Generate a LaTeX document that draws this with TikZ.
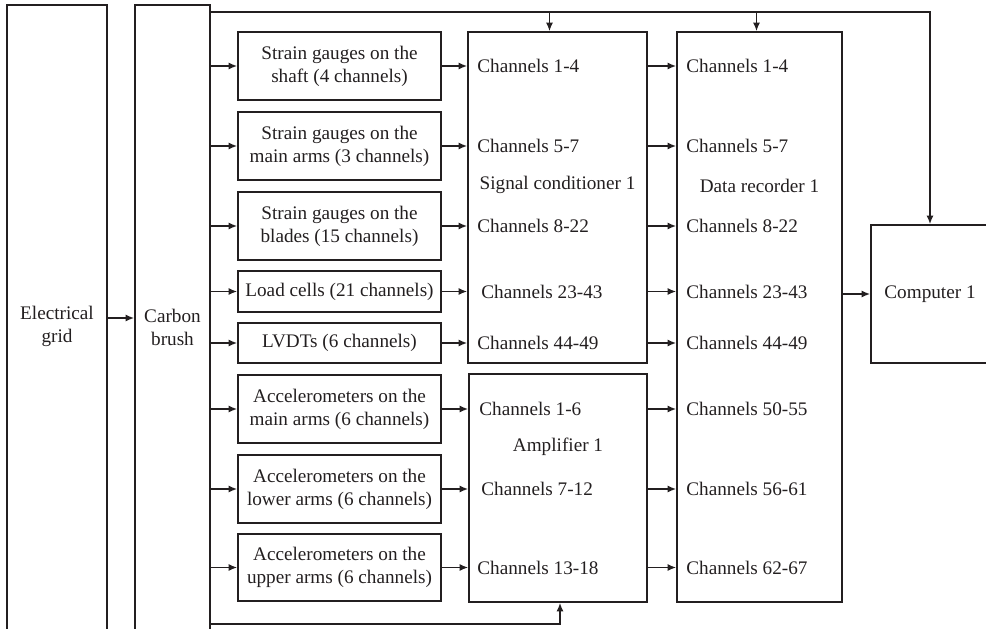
\documentclass[tikz,border=0pt]{standalone}
\usepackage{fontspec}
\setmainfont{Liberation Serif}
\usetikzlibrary{arrows.meta}
\definecolor{ink}{RGB}{35,31,32}
\begin{document}
\begin{tikzpicture}[x=1pt,y=-1pt,
  every node/.style={font=\fontsize{19.2}{23}\selectfont, text=ink},
  blk/.style={draw=ink, line width=1.6pt, inner sep=0pt},
  sensor/.style={blk, minimum width=203pt, align=center},
  lbl/.style={anchor=west, inner sep=0pt},
  arr/.style={draw=ink, line width=1.6pt, -{Latex[length=8.5pt,width=7pt]}}]

\useasboundingbox (0,0) rectangle (986,629);
\clip (0,0) rectangle (986,629);

% supply blocks, running past the lower edge
\node[blk, minimum width=100pt, minimum height=660pt] (grid) at (57,335) {};
\node[align=center] (gridtxt) at (57,326) {Electrical\\grid};
\node[blk, minimum width=75pt, minimum height=660pt] (brush) at (172.5,335) {};
\node[align=center] (brushtxt) at (172.5,327) {Carbon\\brush};
\coordinate (feed) at (57,318);

% sensors
\node[sensor, minimum height=68pt] (s1) at (339.5,66) {Strain gauges on the\\shaft (4 channels)};
\node[sensor, minimum height=68pt] (s2) at (339.5,146) {Strain gauges on the\\main arms (3 channels)};
\node[sensor, minimum height=68pt] (s3) at (339.5,226) {Strain gauges on the\\blades (15 channels)};
\node[sensor, minimum height=41pt] (s4) at (339.5,291.5) {Load cells (21 channels)};
\node[sensor, minimum height=40pt] (s5) at (339.5,343) {LVDTs (6 channels)};
\node[sensor, minimum height=68pt] (s6) at (339.5,409) {Accelerometers on the\\main arms (6 channels)};
\node[sensor, minimum height=68pt] (s7) at (339.5,489) {Accelerometers on the\\lower arms (6 channels)};
\node[sensor, minimum height=67pt] (s8) at (339.5,567.5) {Accelerometers on the\\upper arms (6 channels)};

% conditioning, amplification, recording
\node[blk, minimum width=179pt, minimum height=331pt] (sc) at (557.5,197.5) {};
\node[blk, minimum width=178pt, minimum height=228pt] (amp) at (558,488) {};
\node[blk, minimum width=165pt, minimum height=570pt] (dr) at (759.5,317) {};
\node[blk, minimum width=118pt, minimum height=138pt] (comp) at (930,294) {Computer 1};

\node (sctitle) at (557.5,185) {Signal conditioner 1};
\node (amptitle) at (558,447) {Amplifier 1};
\node (drtitle) at (759.5,186) {Data recorder 1};

% channel labels of the signal conditioner and the amplifier
\node[lbl, xshift=10pt] (sc1) at (sc.west |- s1.west) {Channels 1-4};
\node[lbl, xshift=10pt] (sc2) at (sc.west |- s2.west) {Channels 5-7};
\node[lbl, xshift=10pt] (sc3) at (sc.west |- s3.west) {Channels 8-22};
\node[lbl, xshift=14pt] (sc4) at (sc.west |- s4.west) {Channels 23-43};
\node[lbl, xshift=10pt] (sc5) at (sc.west |- s5.west) {Channels 44-49};
\node[lbl, xshift=11pt] (am1) at (amp.west |- s6.west) {Channels 1-6};
\node[lbl, xshift=13pt] (am2) at (amp.west |- s7.west) {Channels 7-12};
\node[lbl, xshift=9pt] (am3) at (amp.west |- s8.west) {Channels 13-18};

% channel labels of the data recorder
\node[lbl, xshift=10pt] (dr1) at (dr.west |- s1.west) {Channels 1-4};
\node[lbl, xshift=10pt] (dr2) at (dr.west |- s2.west) {Channels 5-7};
\node[lbl, xshift=10pt] (dr3) at (dr.west |- s3.west) {Channels 8-22};
\node[lbl, xshift=10pt] (dr4) at (dr.west |- s4.west) {Channels 23-43};
\node[lbl, xshift=10pt] (dr5) at (dr.west |- s5.west) {Channels 44-49};
\node[lbl, xshift=10pt] (dr6) at (dr.west |- s6.west) {Channels 50-55};
\node[lbl, xshift=10pt] (dr7) at (dr.west |- s7.west) {Channels 56-61};
\node[lbl, xshift=10pt] (dr8) at (dr.west |- s8.west) {Channels 62-67};

% power feed
\draw[arr] (grid.east |- feed) -- (brush.west |- feed);

% brush to sensors, sensors to conditioner / amplifier, on to the recorder
\foreach \s in {s1,s2,s3,s4,s5,s6,s7,s8}
  \draw[arr] (brush.east |- \s.west) -- (\s.west);
\foreach \s in {s1,s2,s3,s4,s5}{
  \draw[arr] (\s.east) -- (sc.west |- \s.east);
  \draw[arr] (sc.east |- \s.east) -- (dr.west |- \s.east);
}
\foreach \s in {s6,s7,s8}{
  \draw[arr] (\s.east) -- (amp.west |- \s.east);
  \draw[arr] (amp.east |- \s.east) -- (dr.west |- \s.east);
}
\draw[arr] (dr.east |- comp.west) -- (comp.west);

% supply bus along the top
\coordinate (busTop) at ([yshift=-8pt]brush.north east);
\coordinate (scIn) at ([xshift=-8pt]sc.north);
\coordinate (drIn) at ([xshift=-3pt]dr.north);
\draw[arr] (busTop) -| (comp.north);
\draw[arr] (scIn |- busTop) -- (scIn);
\draw[arr] (drIn |- busTop) -- (drIn);

% supply bus along the bottom
\coordinate (busLow) at (brush.east |- amp.south);
\coordinate (busBot) at ([yshift=-21pt]busLow);
\draw[arr] (busBot) -| ([xshift=2pt]amp.south);
\end{tikzpicture}
\end{document}
